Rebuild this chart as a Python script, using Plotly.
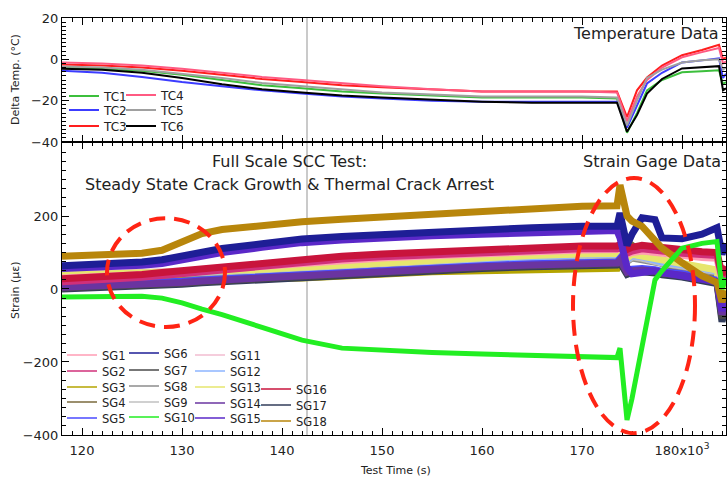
import plotly.graph_objects as go
from plotly.subplots import make_subplots

# ---------------- data ----------------
temp_time = [118, 122, 126, 130, 134, 138, 142, 146, 150, 155, 160, 165, 170, 173.5,
             174.5, 175.5, 176.5, 178, 180, 182, 183.7, 184.1, 184.4]
tc1 = [-4, -4.5, -5.5, -7.5, -10, -12.5, -14, -15.5, -16.5, -17.5, -18.5, -18.5, -18.5, -19,
       -35.5, -26, -15, -10, -6.3, -5.8, -5.3, -12, -11]
tc2 = [-5.5, -6.5, -8.5, -11, -13, -15, -16.5, -18, -19, -20, -20.5, -20.5, -20.5, -20.5,
       -33, -22, -11.7, -6.5, -1.5, -0.5, 0.5, -9, -7]
tc3 = [-2.5, -3, -4, -5.5, -7.5, -9.5, -11, -12.5, -13.5, -14.5, -15.5, -15.5, -15.5, -15.5,
       -28, -15, -8.8, -3, 2, 4.5, 7, 0, 1]
tc4 = [-1.5, -2, -3, -4.5, -6.5, -8.5, -10, -11.5, -13, -14.5, -15.5, -15.5, -15.5, -16,
       -30, -18, -10, -4, 1, 3.5, 5.5, -2, -1]
tc5 = [-3.5, -4, -5, -7, -9, -11.5, -13, -14.5, -16, -17, -18, -18, -18, -18.5,
       -32, -20, -9, -5, -1.5, -0.5, 0, -5, -4]
tc6 = [-4.5, -5, -6.5, -9, -12, -14.5, -16, -17.5, -18.5, -19.5, -20.5, -21, -21, -21,
       -35, -27, -16.6, -9.5, -4.4, -3.8, -3.3, -15, -14]

strain_time = [118, 122, 126, 128, 130, 132, 134, 138, 142, 146, 150, 155, 160, 165, 170,
               173.5, 173.8, 174.5, 175, 176, 177.3, 178, 180, 182, 183.5, 184, 184.4]
sg1 = [30, 33, 38, 42, 46, 50, 55, 63, 71, 78, 85, 91, 97, 103, 107, 108, 112, 95, 100, 104, 100, 96, 90, 86, 84, 20, 45]
sg2 = [20, 24, 32, 37, 42, 47, 54, 64, 74, 82, 88, 94, 100, 106, 110, 110, 115, 98, 104, 110, 108, 104, 98, 95, 92, 30, 55]
sg3 = [38, 36, 33, 31, 30, 29, 28, 28, 30, 36, 42, 47, 50, 53, 56, 57, 90, 110, 104, 95, 82, 76, 66, 56, 50, -10, 12]
sg4 = [30, 30, 28, 27, 27, 27, 27, 29, 33, 39, 45, 50, 54, 57, 60, 61, 100, 130, 120, 100, 80, 70, 55, 40, 30, -50, -15]
sg5 = [8, 11, 15, 18, 21, 25, 28, 33, 40, 47, 53, 59, 64, 69, 73, 74, 84, 50, 54, 56, 53, 48, 42, 32, 24, -60, -25]
sg6 = [64, 67, 74, 80, 90, 100, 111, 124, 137, 144, 150, 156, 162, 168, 172, 172, 208, 120, 150, 195, 190, 140, 138, 150, 168, 95, 125]
sg7 = [3, 6, 10, 13, 16, 20, 23, 28, 35, 42, 48, 54, 59, 64, 68, 69, 76, 44, 48, 50, 47, 42, 36, 26, 18, -80, -35]
sg8 = [32, 34, 37, 39, 41, 43, 45, 49, 54, 61, 68, 74, 80, 86, 90, 91, 96, 75, 85, 80, 72, 68, 60, 50, 45, -30, 10]
sg9 = [34, 36, 39, 41, 43, 45, 47, 51, 56, 63, 70, 76, 82, 88, 92, 93, 98, 78, 88, 84, 75, 71, 63, 54, 48, -25, 15]
sg10 = [-22, -20, -20, -25, -38, -55, -70, -105, -140, -162, -168, -174, -178, -182, -185, -188, -162, -359, -300, -153, 25, 50, 112, 125, 130, 0, 30]
sg11 = [40, 42, 44, 46, 48, 50, 52, 56, 61, 68, 75, 81, 87, 93, 97, 98, 102, 86, 93, 88, 79, 75, 67, 57, 51, -10, 25]
sg12 = [36, 38, 41, 43, 45, 47, 49, 53, 58, 65, 72, 78, 84, 90, 94, 95, 100, 80, 92, 88, 78, 74, 66, 56, 50, -20, 20]
sg13 = [38, 40, 42, 44, 46, 48, 50, 54, 60, 67, 74, 80, 86, 92, 96, 97, 104, 84, 95, 90, 80, 76, 68, 58, 52, -15, 22]
sg14 = [5, 8, 12, 15, 18, 22, 25, 30, 37, 44, 50, 56, 61, 66, 70, 71, 80, 46, 50, 52, 49, 44, 38, 28, 20, -70, -30]
sg15 = [56, 59, 65, 70, 80, 90, 100, 114, 127, 134, 140, 146, 150, 155, 159, 160, 140, 60, 42, 46, 50, 45, 36, 26, 20, -60, -20]
sg16 = [28, 32, 40, 45, 50, 55, 62, 72, 82, 90, 96, 102, 108, 114, 118, 118, 122, 108, 114, 120, 116, 112, 106, 102, 100, 40, 62]
sg17 = [0, 3, 7, 10, 13, 17, 20, 25, 32, 39, 45, 51, 56, 61, 65, 66, 72, 40, 45, 47, 44, 39, 33, 23, 15, -90, -40]
sg18 = [90, 92, 98, 106, 128, 152, 163, 174, 184, 191, 197, 204, 211, 221, 227, 228, 285, 200, 186, 172, 132, 112, 72, 36, 18, -35, -5]

time_ticks = [120, 130, 140, 150, 160, 170, 180]
time_tick_labels = ["120", "130", "140", "150", "160", "170", "180x10<sup>3</sup>"]
temp_ticks = [-40, -20, 0, 20]
strain_ticks = [-400, -200, 0, 200]
marker_time = 142.5
ellipse_t0 = [122.5, 169.1]
ellipse_t1 = [134.3, 181.3]
ellipse_s0 = [-104, -395]
ellipse_s1 = [194, 304]

# ---------------- styling ----------------
FONT = "DejaVu Sans"
tc_series = [("TC1", tc1, "#3cbf3c"), ("TC2", tc2, "#3c3cff"), ("TC3", tc3, "#ff1e1e"),
             ("TC4", tc4, "#ff5a82"), ("TC5", tc5, "#a0a0a0"), ("TC6", tc6, "#000000")]
sg_series = [
    ("SG1", sg1, "#ff9cb4"), ("SG2", sg2, "#d0307a"), ("SG3", sg3, "#b4a400"),
    ("SG4", sg4, "#7a6a3c"), ("SG5", sg5, "#4a4aff"), ("SG6", sg6, "#1e1e96"),
    ("SG7", sg7, "#4a4a4a"), ("SG8", sg8, "#8c8c8c"), ("SG9", sg9, "#c0c0c0"),
    ("SG10", sg10, "#22ee22"), ("SG11", sg11, "#f2bcd0"), ("SG12", sg12, "#8cb4ff"),
    ("SG13", sg13, "#e6e66e"), ("SG14", sg14, "#6a34a0"), ("SG15", sg15, "#5a28c8"),
    ("SG16", sg16, "#c8143c"), ("SG17", sg17, "#323c5a"), ("SG18", sg18, "#b8860b"),
]
sg_lookup = {n: (v, c) for n, v, c in sg_series}
draw_order = ["SG4", "SG3", "SG8", "SG9", "SG11", "SG12", "SG13", "SG5", "SG17", "SG7",
              "SG14", "SG1", "SG2", "SG16", "SG15", "SG6", "SG18", "SG10"]

# legend cell placement (pixel: legend left edge, row centre)
legend_cells = {
    "TC1": (64, 96), "TC2": (64, 110), "TC3": (64, 126),
    "TC4": (121, 95), "TC5": (121, 110), "TC6": (121, 126),
    "SG1": (62, 355), "SG2": (62, 371), "SG3": (62, 387), "SG4": (62, 402), "SG5": (62, 418),
    "SG6": (124, 353), "SG7": (124, 370), "SG8": (124, 386), "SG9": (124, 402), "SG10": (124, 417),
    "SG11": (190, 355), "SG12": (190, 371), "SG13": (190, 387), "SG14": (190, 403), "SG15": (190, 418),
    "SG16": (256, 389), "SG17": (256, 405), "SG18": (256, 421),
}

W, H = 727, 479
ml, mr, mt, mb = 62, 1, 18, 44
pw, ph = W - ml - mr, H - mt - mb


def px_x(px):
    return (px - ml) / pw


def px_y(py):
    return (H - mb - py) / ph


legend_ids = {}
legend_layout = {}
for k, name in enumerate(legend_cells):
    lid = "legend" if k == 0 else "legend%d" % (k + 1)
    legend_ids[name] = lid
    lx, ly = legend_cells[name]
    size = 12 if name.startswith("TC") else 11.5
    legend_layout[lid] = dict(x=px_x(lx), y=px_y(ly), xanchor="left", yanchor="middle",
                              orientation="v", bgcolor="rgba(0,0,0,0)", borderwidth=0,
                              itemwidth=30, font=dict(family=FONT, size=size, color="#222"))

fig = make_subplots(rows=2, cols=1, shared_xaxes=True, vertical_spacing=0,
                    row_heights=[0.2974, 0.7026])

for name, vals, color in tc_series:
    fig.add_trace(go.Scatter(x=temp_time, y=vals, mode="lines", name=name,
                             line=dict(color=color, width=2), legend=legend_ids[name]),
                  row=1, col=1)

for name in draw_order:
    vals, color = sg_lookup[name]
    fig.add_trace(go.Scatter(x=strain_time, y=vals, mode="lines", name=name,
                             line=dict(color=color, width=7 if name != "SG10" else 5),
                             showlegend=False),
                  row=2, col=1)
# legend entries with thin line samples
for name, vals, color in sg_series:
    fig.add_trace(go.Scatter(x=[None], y=[None], mode="lines", name=name,
                             line=dict(color=color, width=1.5), legend=legend_ids[name]),
                  row=2, col=1)

axis_common = dict(showline=True, linecolor="black", linewidth=1, mirror="ticks",
                   ticks="inside", ticklen=7, tickcolor="black", showgrid=False,
                   zeroline=False, tickfont=dict(family=FONT, size=13, color="#222"))

fig.update_layout(width=W, height=H, margin=dict(l=ml, r=mr, t=mt, b=mb),
                  paper_bgcolor="white", plot_bgcolor="white",
                  font=dict(family=FONT, color="#222"), **legend_layout)

fig.update_xaxes(range=[118, 184.4], tickmode="array", tickvals=time_ticks,
                 ticktext=time_tick_labels,
                 minor=dict(ticks="inside", ticklen=4, dtick=1, tick0=0, tickcolor="black"),
                 **axis_common)
fig.update_xaxes(showticklabels=False, row=1, col=1)
fig.update_xaxes(ticklabelstandoff=3, row=2, col=1)

fig.update_yaxes(range=[-40, 20], tickmode="array", tickvals=temp_ticks,
                 minor=dict(ticks="inside", ticklen=4, dtick=2, tick0=0, tickcolor="black"),
                 row=1, col=1, **axis_common)
fig.update_yaxes(range=[-400, 402.7], tickmode="array", tickvals=strain_ticks,
                 minor=dict(ticks="inside", ticklen=4, dtick=25, tick0=0, tickcolor="black"),
                 row=2, col=1, **axis_common)

# vertical reference line through both panels
fig.add_shape(type="line", xref="x", yref="paper", x0=marker_time, x1=marker_time,
              y0=0, y1=1, line=dict(color="#b8b8b8", width=1.5), layer="below")

# dashed ellipses in strain panel
for a, b, c, d in zip(ellipse_t0, ellipse_t1, ellipse_s0, ellipse_s1):
    fig.add_shape(type="circle", xref="x2", yref="y2", x0=a, x1=b, y0=c, y1=d,
                  line=dict(color="#ff2414", width=4, dash="16px,9px"))

ann_font = dict(family=FONT, size=16, color="#222")
fig.add_annotation(text="Temperature Data", xref="paper", yref="paper",
                   x=px_x(721), y=px_y(33), xanchor="right", yanchor="middle",
                   showarrow=False, font=ann_font)
fig.add_annotation(text="Strain Gage Data", xref="paper", yref="paper",
                   x=px_x(723), y=px_y(161), xanchor="right", yanchor="middle",
                   showarrow=False, font=ann_font)
fig.add_annotation(text="Full Scale SCC Test:", xref="paper", yref="paper",
                   x=px_x(289), y=px_y(162), xanchor="center", yanchor="middle",
                   showarrow=False, font=ann_font)
fig.add_annotation(text="Steady State Crack Growth & Thermal Crack Arrest", xref="paper",
                   yref="paper", x=px_x(289), y=px_y(185), xanchor="center",
                   yanchor="middle", showarrow=False, font=ann_font)

title_font = dict(family=FONT, size=11, color="#222")
fig.add_annotation(text="Delta Temp. (°C)", xref="paper", yref="paper",
                   x=px_x(15), y=px_y(79), textangle=-90, xanchor="center",
                   yanchor="middle", showarrow=False, font=title_font)
fig.add_annotation(text="Strain (\u03bc\u03b5)", xref="paper", yref="paper",
                   x=px_x(15), y=px_y(290), textangle=-90, xanchor="center",
                   yanchor="middle", showarrow=False, font=title_font)
fig.add_annotation(text="Test Time (s)", xref="paper", yref="paper",
                   x=px_x(395), y=px_y(471), xanchor="center", yanchor="middle",
                   showarrow=False, font=title_font)

fig.write_html("out.html")
